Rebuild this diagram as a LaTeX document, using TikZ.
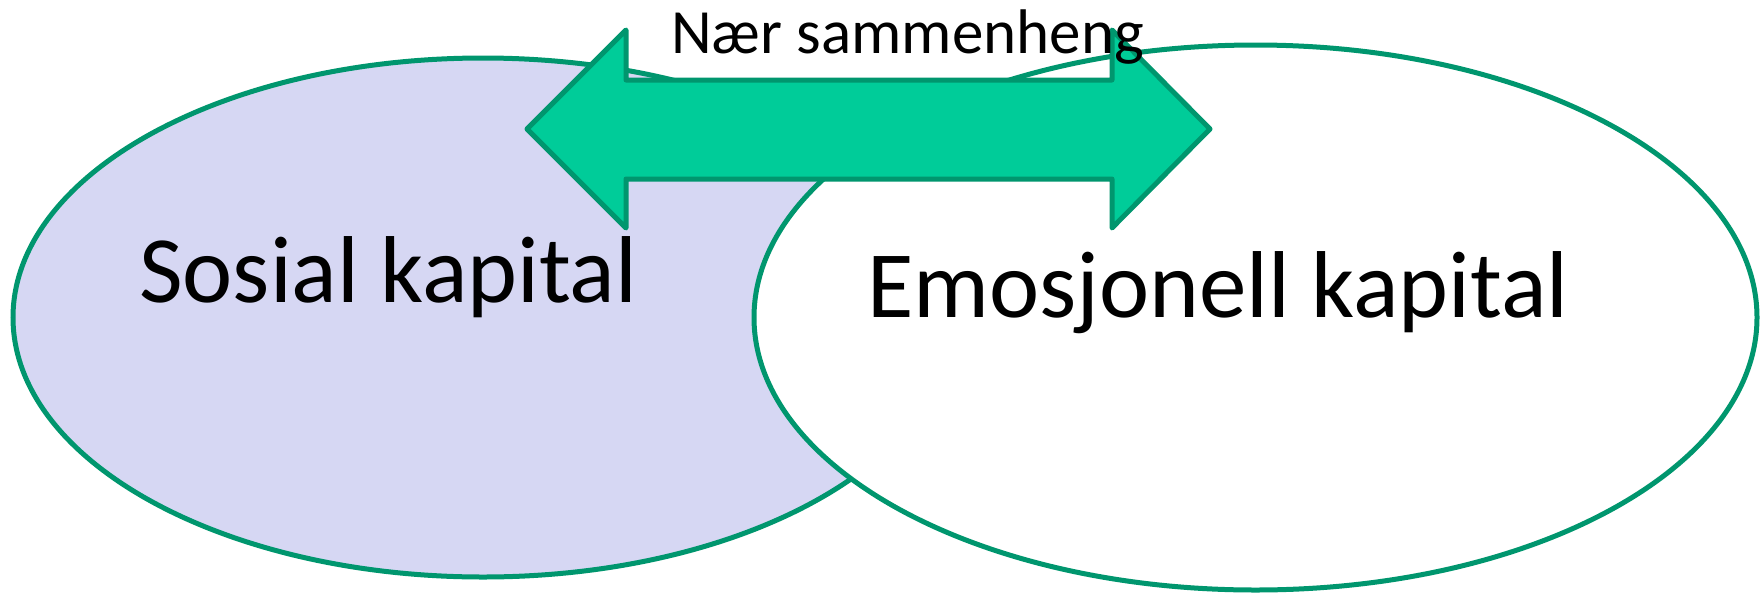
\documentclass[tikz,border=0pt]{standalone}
\usepackage{fontspec}
\setmainfont{Carlito}
\definecolor{lav}{RGB}{214,215,243}
\definecolor{edge}{RGB}{0,150,110}
\definecolor{arrowfill}{RGB}{0,204,153}
\begin{document}
\begin{tikzpicture}[x=1pt,y=-1pt,
  ell/.style={draw=edge,line width=5pt},
  lbl/.style={inner sep=0pt,anchor=base west,text=black}]
\useasboundingbox (0,0) rectangle (1762,595);
\draw[ell,fill=lav] (483,317.5) ellipse [x radius=470, y radius=259.5];
\draw[ell,fill=white] (1255.5,317.5) ellipse [x radius=501.5, y radius=272.5];
\draw[draw=edge,fill=arrowfill,line width=5pt,line join=round]
  (527,129) -- (626,30) -- (626,80) -- (1112,80) -- (1112,30) -- (1210,129)
  -- (1112,228) -- (1112,179) -- (626,179) -- (626,228) -- cycle;
\node[lbl,font=\fontsize{63}{70}\selectfont] (rel) at (671,53) {Nær sammenheng};
\node[lbl,font=\fontsize{95}{110}\selectfont] (sos) at (139,302) {Sosial kapital};
\node[lbl,font=\fontsize{95}{110}\selectfont] (emo) at (867,317) {Emosjonell kapital};
\end{tikzpicture}
\end{document}
